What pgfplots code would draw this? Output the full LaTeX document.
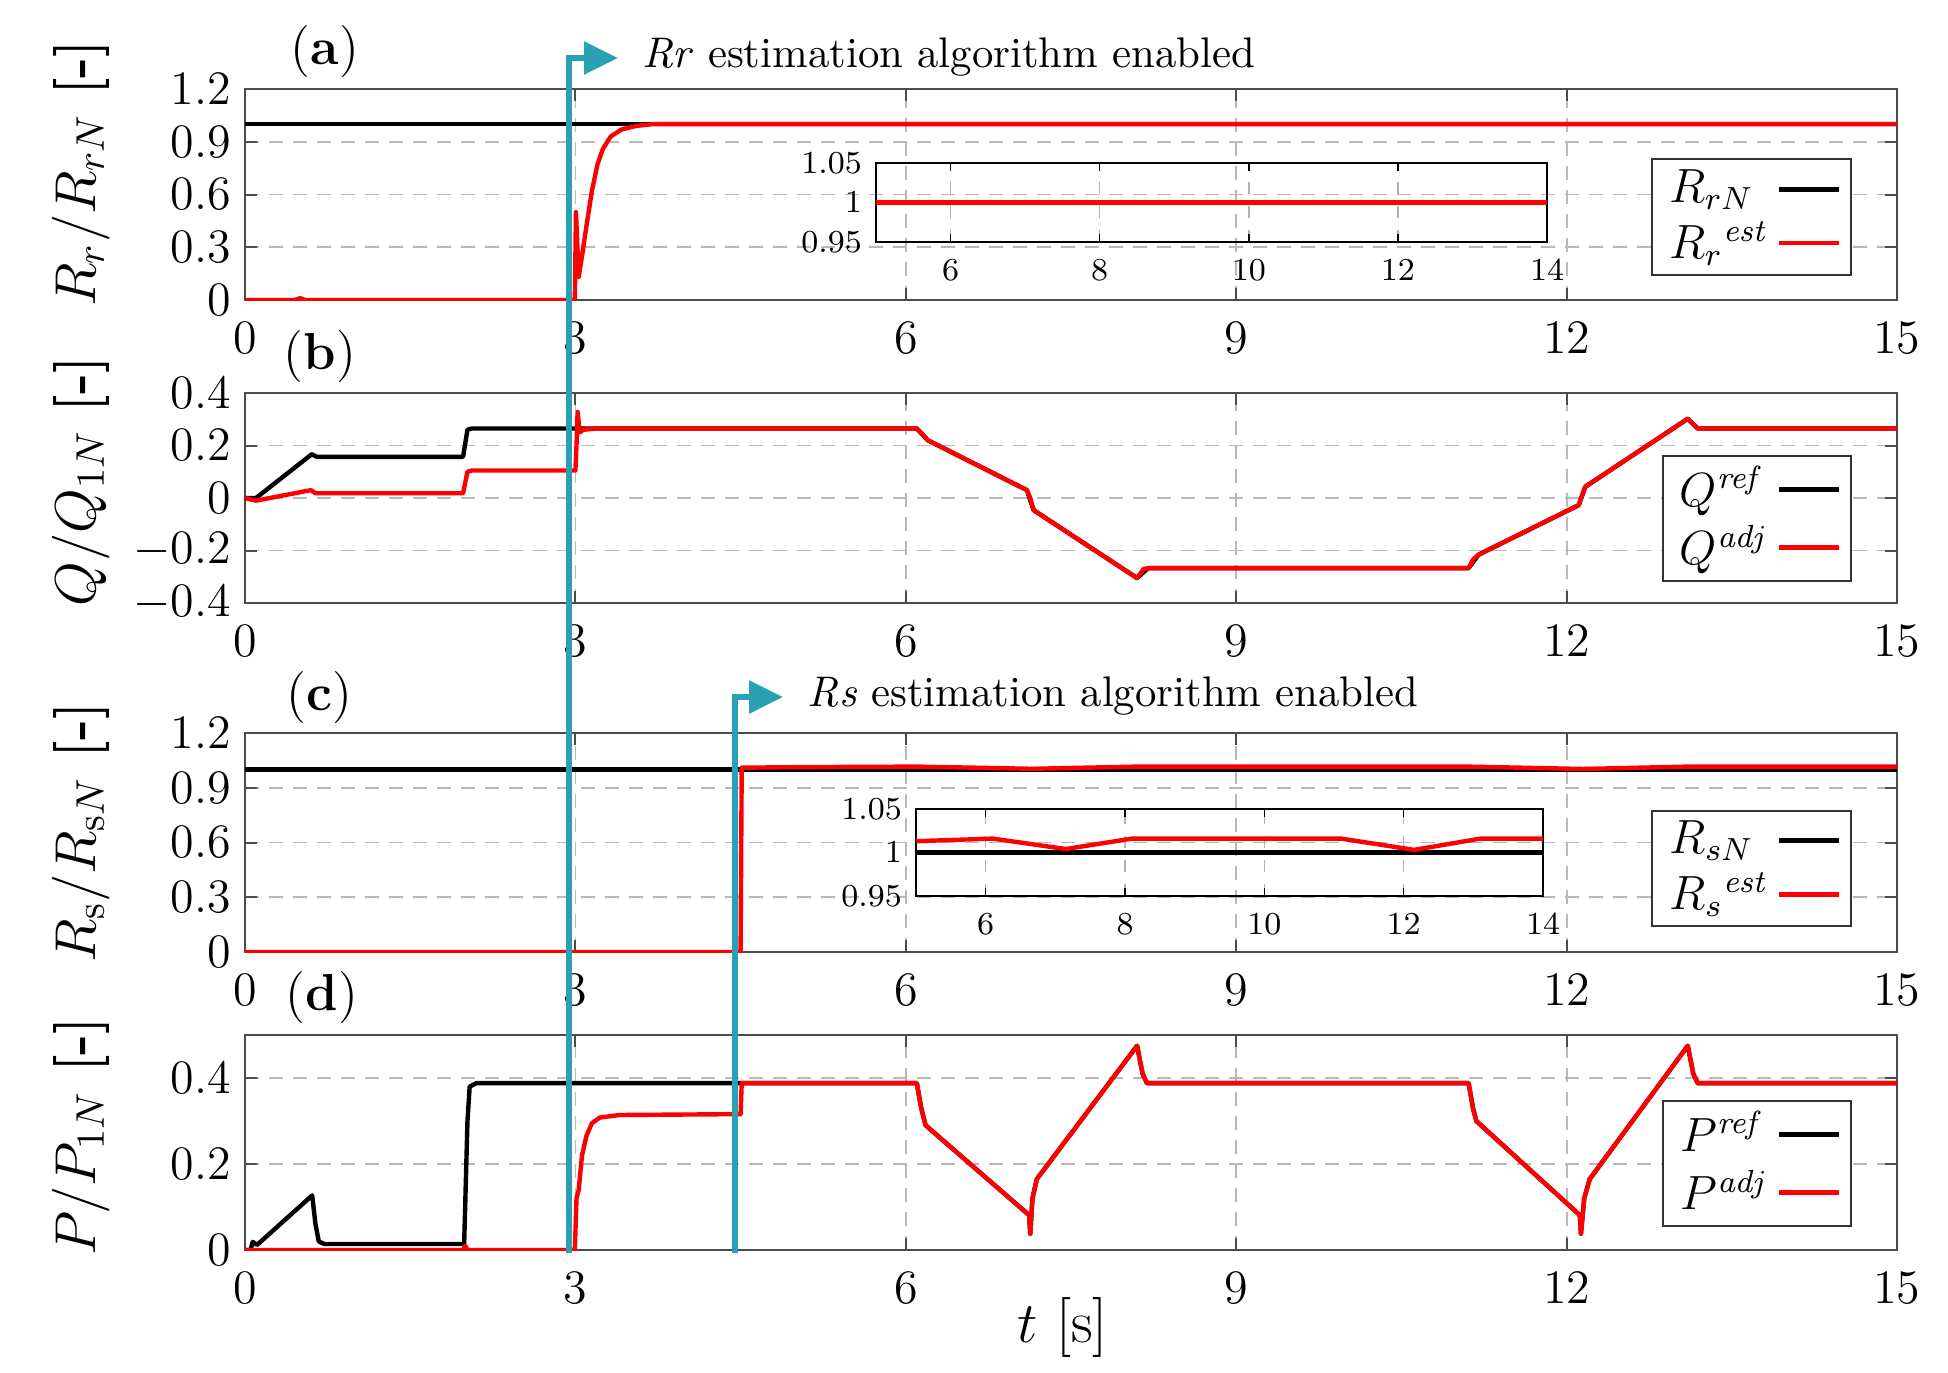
\documentclass[border=0pt]{standalone}
\usepackage{pgfplots}
\pgfplotsset{compat=1.18}
\usetikzlibrary{arrows.meta}
\definecolor{tealA}{RGB}{42,160,180}
\definecolor{framegray}{RGB}{75,75,75}
\pgfplotsset{
  mainax/.style={
    scale only axis, width=413pt,
    xmin=0, xmax=15, xtick={0,3,6,9,12,15},
    grid=major,
    major grid style={dash pattern=on 3.5pt off 2.5pt, gray!55, line width=0.45pt},
    axis line style={framegray, line width=0.55pt},
    tick style={framegray, line width=0.5pt},
    major tick length=3pt,
    tick align=inside,
    tick label style={font=\fontsize{12}{12}\selectfont},
    xticklabel style={yshift=-2pt},
    ylabel style={font=\fontsize{14}{14}\selectfont, anchor=center},
    legend plot pos=right,
    legend cell align=left,
    legend image code/.code={\draw[#1, line width=1.2pt] (0pt,0pt) -- (15pt,0pt);},
    legend style={font=\fontsize{11.5}{11.5}\selectfont, draw=black!80, line width=0.5pt,
      inner xsep=2.5pt, inner ysep=1pt, row sep=0pt, anchor=south east,
      nodes={inner ysep=1.6pt, inner xsep=1.8pt}},
    every axis plot/.append style={line width=1.1pt, line join=round},
  },
  insetax/.style={
    scale only axis, xmin=5, xmax=14, ymin=0.95, ymax=1.05,
    xtick={6,8,10,12,14}, ytick={0.95,1,1.05},
    xmajorgrids, major grid style={gray!60, dashed, line width=0.4pt},
    axis line style={black, line width=0.5pt},
    tick style={black, line width=0.4pt}, major tick length=2pt, tick align=inside,
    tick label style={font=\fontsize{8}{8}\selectfont},
    xticklabel style={yshift=-1pt},
    every axis plot/.append style={line width=1.1pt},
  },
}
\begin{document}
\begin{tikzpicture}
\path (0pt,0pt) rectangle (487pt,-343pt);

% ---------------- (a) ----------------
\begin{axis}[mainax, at={(61.25pt,-22.25pt)}, anchor=north west, height=52.75pt,
  ymin=0, ymax=1.2, ytick={0,0.3,0.6,0.9,1.2},
  yticklabels={0,0.3,0.6,0.9,1.2},
  ylabel={$R_r/R_{rN}$ \textbf{[-]}},
  ylabel style={at={(axis description cs:-0.0993,0.6)}},
  legend style={at={(0.973,0.114)}}]
\addplot[black] coordinates {(0,1) (15,1)};
\addlegendentry{$R_{rN}$}
\addplot[red] coordinates {(0,0) (0.45,0) (0.5,0.01) (0.55,0) (2.995,0) (3.005,0.5) (3.03,0.13)
 (3.06,0.25) (3.1,0.42) (3.15,0.62) (3.2,0.77) (3.25,0.86) (3.32,0.93) (3.42,0.97) (3.55,0.99) (3.7,1.0) (15,1.0)};
\addlegendentry{$R_r{}^{\mathit{est}}$}
\end{axis}

\begin{axis}[insetax, at={(219pt,-40.75pt)}, anchor=north west, width=167.75pt, height=19.75pt]
\addplot[black] coordinates {(5,1) (14,1)};
\addplot[red] coordinates {(5,1) (14,1)};
\end{axis}

% ---------------- (b) ----------------
\begin{axis}[mainax, at={(61.25pt,-98.25pt)}, anchor=north west, height=52.5pt,
  ymin=-0.4, ymax=0.4, ytick={-0.4,-0.2,0,0.2,0.4},
  ylabel={$Q/Q_{1N}$ \textbf{[-]}},
  ylabel style={at={(axis description cs:-0.0993,0.58)}},
  legend style={at={(0.973,0.10)}}]
\addplot[black] coordinates {(0,0) (0.1,0) (0.607,0.167) (0.65,0.157) (1.98,0.157) (2.02,0.26) (2.06,0.265)
 (6.1,0.265) (6.2,0.22) (7.1,0.03) (7.16,-0.046) (8.1,-0.305) (8.2,-0.267) (11.11,-0.267) (11.2,-0.216)
 (12.11,-0.027) (12.17,0.043) (13.1,0.302) (13.19,0.265) (15,0.265)};
\addlegendentry{$Q^{\mathit{ref}}$}
\addplot[red] coordinates {(0,0) (0.1,-0.01) (0.6,0.03) (0.64,0.018) (1.98,0.018) (2.02,0.1) (2.06,0.105)
 (3.0,0.105) (3.01,0.2) (3.02,0.328) (3.04,0.25) (3.07,0.26) (3.2,0.265) (6.1,0.265) (6.2,0.22)
 (7.1,0.03) (7.13,0.0) (7.16,-0.046) (8.1,-0.305) (8.16,-0.27) (8.22,-0.267) (11.11,-0.267)
 (11.15,-0.235) (11.2,-0.216) (12.11,-0.027) (12.14,0.01) (12.17,0.043) (13.1,0.302) (13.19,0.265) (15,0.265)};
\addlegendentry{$Q^{\mathit{adj}}$}
\end{axis}

% ---------------- (c) ----------------
\begin{axis}[mainax, at={(61.25pt,-183.25pt)}, anchor=north west, height=54.75pt,
  ymin=0, ymax=1.2, ytick={0,0.3,0.6,0.9,1.2},
  yticklabels={0,0.3,0.6,0.9,1.2},
  ylabel={$R_\mathrm{s}/R_{\mathrm{s}N}$ \textbf{[-]}},
  ylabel style={at={(axis description cs:-0.0993,0.545)}},
  legend style={at={(0.973,0.114)}}]
\addplot[black] coordinates {(0,1) (15,1)};
\addlegendentry{$R_{sN}$}
\addplot[red] coordinates {(0,0) (4.5,0) (4.51,1.01) (5,1.013) (6.1,1.016) (7.15,1.004) (8.1,1.016)
 (11.1,1.016) (12.15,1.003) (13.1,1.016) (15,1.016)};
\addlegendentry{$R_s{}^{\mathit{est}}$}
\end{axis}

\begin{axis}[insetax, at={(229pt,-202.25pt)}, anchor=north west, width=156.75pt, height=21.75pt]
\addplot[black] coordinates {(5,1) (14,1)};
\addplot[red] coordinates {(5,1.013) (6.1,1.016) (7.15,1.004) (8.1,1.016) (11.1,1.016) (12.15,1.003) (13.1,1.016) (14,1.016)};
\end{axis}

% ---------------- (d) ----------------
\begin{axis}[mainax, at={(61.25pt,-258.75pt)}, anchor=north west, height=53.75pt,
  ymin=0, ymax=0.5, ytick={0,0.2,0.4},
  ylabel={$P/P_{1N}$ \textbf{[-]}},
  ylabel style={at={(axis description cs:-0.0993,0.53)}},
  xlabel={$t$ [s]},
  xlabel style={font=\fontsize{15}{15}\selectfont, at={(axis description cs:0.495,-0.36)}, anchor=center},
  legend style={at={(0.973,0.107)}}]
\addplot[black] coordinates {(0,0) (0.05,0) (0.07,0.019) (0.11,0.012) (0.61,0.127) (0.64,0.06) (0.67,0.02)
 (0.72,0.014) (1.99,0.014) (2.02,0.3) (2.04,0.38) (2.1,0.388) (6.1,0.388) (6.14,0.33) (6.18,0.29)
 (7.12,0.081) (7.13,0.038) (7.15,0.12) (7.19,0.165) (8.1,0.475) (8.15,0.41) (8.19,0.388) (11.11,0.388)
 (11.15,0.33) (11.18,0.30) (12.12,0.081) (12.13,0.038) (12.16,0.12) (12.21,0.165) (13.1,0.475)
 (13.15,0.41) (13.19,0.388) (15,0.388)};
\addlegendentry{$P^{\mathit{ref}}$}
\addplot[red] coordinates {(0,0) (1.98,0) (2.0,0.01) (2.02,0) (2.995,0) (3.01,0.12) (3.03,0.14) (3.06,0.22)
 (3.1,0.265) (3.15,0.295) (3.22,0.308) (3.4,0.314) (4.5,0.316) (4.51,0.388) (6.1,0.388) (6.14,0.33)
 (6.18,0.29) (7.12,0.081) (7.13,0.038) (7.15,0.12) (7.19,0.165) (8.1,0.475) (8.15,0.41) (8.19,0.388)
 (11.11,0.388) (11.15,0.33) (11.18,0.30) (12.12,0.081) (12.13,0.038) (12.16,0.12) (12.21,0.165)
 (13.1,0.475) (13.15,0.41) (13.19,0.388) (15,0.388)};
\addlegendentry{$P^{\mathit{adj}}$}
\end{axis}

% ---------------- panel labels ----------------
\node[font=\fontsize{13}{13}\selectfont] at (81.25pt,-13pt) {(\textbf{a})};
\node[font=\fontsize{13}{13}\selectfont] at (80pt,-89.25pt) {(\textbf{b})};
\node[font=\fontsize{13}{13}\selectfont] at (79.75pt,-174.5pt) {(\textbf{c})};
\node[font=\fontsize{13}{13}\selectfont] at (80.5pt,-249.5pt) {(\textbf{d})};

% ---------------- annotations ----------------
\draw[tealA, line width=1.5pt, -{Triangle[length=8.5pt,width=8pt]}]
  (142.25pt,-313.25pt) -- (142.25pt,-14.5pt) -- (154.5pt,-14.5pt);
\draw[tealA, line width=1.5pt, -{Triangle[length=8.5pt,width=8pt]}]
  (183.75pt,-313.25pt) -- (183.75pt,-174.25pt) -- (195.75pt,-174.25pt);
\node[anchor=west, inner sep=0pt, font=\fontsize{10.7}{11}\selectfont] at (160.5pt,-14.25pt)
  {\textit{Rr} estimation algorithm enabled};
\node[anchor=west, inner sep=0pt, font=\fontsize{10.7}{11}\selectfont] at (201.75pt,-174pt)
  {\textit{Rs} estimation algorithm enabled};
\end{tikzpicture}
\end{document}
